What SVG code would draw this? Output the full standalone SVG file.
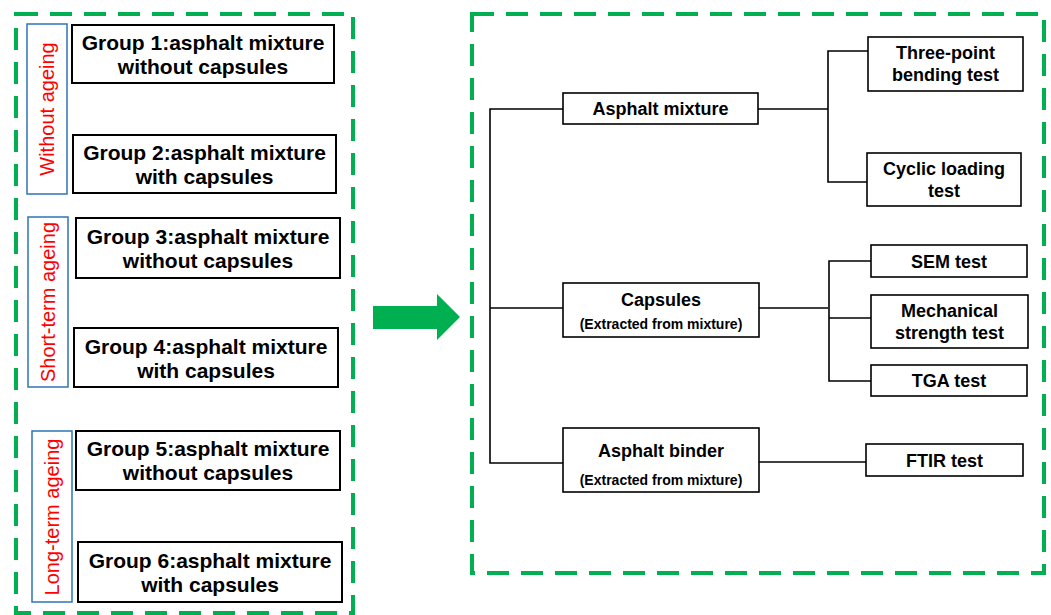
<svg xmlns="http://www.w3.org/2000/svg" width="1051" height="615" viewBox="0 0 1051 615">
<style>
.dash{fill:none;stroke:#00B050;stroke-width:4;stroke-dasharray:22 12}
.grp{fill:#fff;stroke:#000;stroke-width:2}
.lbl{fill:none;stroke:#2E75B6;stroke-width:1.5}
.nd{fill:#fff;stroke:#000;stroke-width:1.6}
.gt{font-family:"Liberation Sans",Arial,sans-serif;font-weight:bold;font-size:21px;fill:#000;text-anchor:middle;dominant-baseline:central}
.rt{font-family:"Liberation Sans",Arial,sans-serif;font-size:20px;fill:#FF0000;text-anchor:middle;dominant-baseline:central}
.nt{font-family:"Liberation Sans",Arial,sans-serif;font-weight:bold;font-size:18px;fill:#000;text-anchor:middle;dominant-baseline:central}
.st{font-family:"Liberation Sans",Arial,sans-serif;font-weight:bold;font-size:14px;fill:#000;text-anchor:middle;dominant-baseline:central}
.cn{fill:none;stroke:#000;stroke-width:1.6}
</style>
<rect class="dash" x="16" y="14" width="337" height="599"/>
<rect class="dash" x="472" y="14" width="572" height="559"/>

<g id="label-without">
<rect class="lbl" x="27" y="24" width="40" height="170"/>
<text class="rt" x="47" y="109" transform="rotate(-90 47 109)">Without ageing</text>
</g>
<g id="label-short">
<rect class="lbl" x="28" y="217" width="40" height="170"/>
<text class="rt" x="48" y="302" transform="rotate(-90 48 302)">Short-term ageing</text>
</g>
<g id="label-long">
<rect class="lbl" x="32" y="431" width="40" height="171"/>
<text class="rt" x="52" y="517" transform="rotate(-90 52 517)">Long-term ageing</text>
</g>

<g id="group1">
<rect class="grp" x="72" y="25" width="262" height="58"/>
<text class="gt" x="203" y="42.5">Group 1:asphalt mixture</text>
<text class="gt" x="203" y="66.5">without capsules</text>
</g>
<g id="group2">
<rect class="grp" x="73" y="135" width="263" height="58"/>
<text class="gt" x="204.5" y="152.5">Group 2:asphalt mixture</text>
<text class="gt" x="204.5" y="176">with capsules</text>
</g>
<g id="group3">
<rect class="grp" x="76" y="218" width="264" height="60"/>
<text class="gt" x="208" y="236.5">Group 3:asphalt mixture</text>
<text class="gt" x="208" y="260.5">without capsules</text>
</g>
<g id="group4">
<rect class="grp" x="74" y="328" width="264" height="59"/>
<text class="gt" x="206" y="346">Group 4:asphalt mixture</text>
<text class="gt" x="206" y="370">with capsules</text>
</g>
<g id="group5">
<rect class="grp" x="76" y="431" width="264" height="59"/>
<text class="gt" x="208" y="448.5">Group 5:asphalt mixture</text>
<text class="gt" x="208" y="472.5">without capsules</text>
</g>
<g id="group6">
<rect class="grp" x="78" y="542" width="264" height="60"/>
<text class="gt" x="210" y="560">Group 6:asphalt mixture</text>
<text class="gt" x="210" y="584">with capsules</text>
</g>

<g id="arrow">
<polygon points="373,306 437,306 437,294 460,317 437,340 437,329 373,329" fill="#00B050"/>
</g>

<g id="connectors">
<path class="cn" d="M563,109 H490 V463 H563"/>
<path class="cn" d="M490,308 H563"/>
<path class="cn" d="M758,109 H828"/>
<path class="cn" d="M868,51 H828 V182 H867"/>
<path class="cn" d="M759,308 H828"/>
<path class="cn" d="M871,261 H829 V381 H871"/>
<path class="cn" d="M829,318 H871"/>
<path class="cn" d="M759,462 H866"/>
</g>

<g id="asphalt-mixture">
<rect class="nd" x="563" y="93" width="195" height="31"/>
<text class="nt" x="660.5" y="108.5">Asphalt  mixture</text>
</g>
<g id="capsules">
<rect class="nd" x="563" y="283" width="196" height="54"/>
<text class="nt" x="661" y="300">Capsules</text>
<text class="st" x="661" y="324">(Extracted from mixture)</text>
</g>
<g id="asphalt-binder">
<rect class="nd" x="563" y="428" width="196" height="64"/>
<text class="nt" x="661" y="451">Asphalt  binder</text>
<text class="st" x="661" y="480">(Extracted from mixture)</text>
</g>
<g id="three-point">
<rect class="nd" x="868" y="37" width="155" height="54"/>
<text class="nt" x="945.5" y="53">Three-point</text>
<text class="nt" x="945.5" y="75">bending test</text>
</g>
<g id="cyclic">
<rect class="nd" x="867" y="153" width="154" height="53"/>
<text class="nt" x="944" y="169">Cyclic loading</text>
<text class="nt" x="944" y="191">test</text>
</g>
<g id="sem">
<rect class="nd" x="871" y="245" width="156" height="32"/>
<text class="nt" x="949" y="261.5">SEM test</text>
</g>
<g id="mechanical">
<rect class="nd" x="871" y="295" width="157" height="53"/>
<text class="nt" x="949.5" y="311">Mechanical</text>
<text class="nt" x="949.5" y="333">strength test</text>
</g>
<g id="tga">
<rect class="nd" x="871" y="365" width="156" height="31"/>
<text class="nt" x="949" y="381">TGA test</text>
</g>
<g id="ftir">
<rect class="nd" x="866" y="444" width="157" height="32"/>
<text class="nt" x="944.5" y="460.5">FTIR test</text>
</g>
</svg>
